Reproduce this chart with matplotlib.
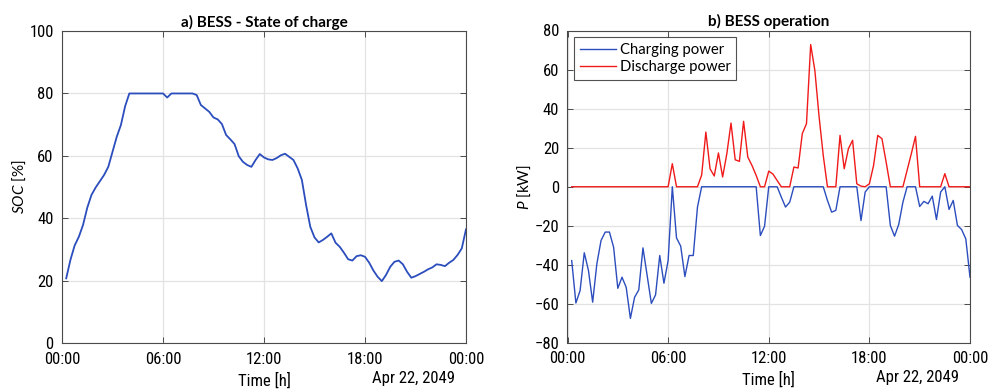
import numpy as np
import pandas as pd
import matplotlib
matplotlib.use("Agg")
import matplotlib.pyplot as plt
import matplotlib.dates as mdates
from matplotlib import font_manager

# ---------------- data ----------------
times = pd.date_range("2049-04-22 00:15", periods=96, freq="15min")

soc = [20.8, 26.7, 31.3, 34.1, 37.9, 43.4, 47.5, 49.9, 51.9, 53.9, 56.5, 61.3,
       66.1, 69.9, 75.9, 80.0, 80.0, 80.0, 80.0, 80.0, 80.0, 80.0, 80.0, 80.0,
       78.7, 80.0, 80.0, 80.0, 80.0, 80.0, 80.0, 79.5, 76.3, 75.2, 74.1, 72.3,
       71.7, 70.2, 66.7, 65.3, 63.8, 59.9, 58.1, 57.1, 56.5, 58.7, 60.6, 59.5,
       58.9, 58.7, 59.3, 60.2, 60.7, 59.7, 58.7, 56.0, 52.3, 44.3, 37.3, 33.9,
       32.3, 33.1, 34.1, 35.2, 32.2, 30.9, 29.0, 26.9, 26.5, 27.9, 28.2, 27.7,
       25.8, 23.3, 21.3, 19.9, 21.9, 24.5, 26.1, 26.5, 25.3, 22.9, 21.0, 21.5,
       22.2, 22.9, 23.7, 24.3, 25.3, 25.1, 24.7, 25.8, 26.7, 28.3, 30.4, 36.5]

charging = [-37.8, -59.5, -53.2, -33.8, -42.9, -59.1, -39.5, -27.5, -23.2, -23.2, -31.0, -52.0,
            -46.3, -51.5, -67.4, -56.6, -52.8, -31.3, -45.5, -59.7, -55.4, -35.2, -49.4, -37.8,
            0.0, -26.2, -30.4, -46.0, -35.2, -35.2, -10.4, 0.0, 0.0, 0.0, 0.0, 0.0,
            0.0, 0.0, 0.0, 0.0, 0.0, 0.0, 0.0, 0.0, 0.0, -25.0, -20.2, 0.0,
            0.0, 0.0, -5.3, -10.4, -7.9, 0.0, 0.0, 0.0, 0.0, 0.0, 0.0, 0.0,
            0.0, -7.0, -13.0, -12.1, 0.0, 0.0, 0.0, 0.0, 0.0, -17.3, -2.7, 0.0,
            0.0, 0.0, 0.0, 0.0, -19.8, -25.3, -19.3, -7.9, 0.0, 0.0, 0.0, -10.1,
            -7.5, -8.7, -4.8, -16.8, -2.7, 0.0, -11.6, -7.0, -19.8, -21.9, -26.7, -46.3]

discharge = [0.0, 0.0, 0.0, 0.0, 0.0, 0.0, 0.0, 0.0, 0.0, 0.0, 0.0, 0.0,
             0.0, 0.0, 0.0, 0.0, 0.0, 0.0, 0.0, 0.0, 0.0, 0.0, 0.0, 0.0,
             11.8, 0.0, 0.0, 0.0, 0.0, 0.0, 0.0, 6.0, 28.0, 9.2, 5.5, 17.3,
             5.0, 16.9, 32.6, 13.8, 13.0, 33.5, 15.2, 10.9, 5.8, 0.0, 0.0, 8.0,
             6.5, 3.2, 0.0, 0.0, 0.0, 10.1, 9.6, 27.2, 32.3, 72.8, 59.5, 36.0,
             16.0, 0.0, 0.0, 0.0, 26.3, 9.2, 19.5, 23.8, 1.5, 0.3, 0.0, 1.5,
             10.9, 26.3, 24.6, 12.6, 0.0, 0.0, 0.0, 0.0, 8.4, 16.9, 25.8, 0.0,
             0.0, 0.0, 0.0, 0.0, 0.0, 6.7, 0.0, 0.0, 0.0, 0.0, 0.0, 0.0]

titles = ["a) BESS - State of charge", "b) BESS operation"]
date_label = "Apr 22, 2049"
x_start = pd.Timestamp("2049-04-22 00:00")
x_end = pd.Timestamp("2049-04-23 00:00")

# ---------------- fonts ----------------
avail = {f.name for f in font_manager.fontManager.ttflist}
def pick(*names):
    for n in names:
        if n in avail:
            return n
    return "DejaVu Sans"

main_font = pick("Lato", "Open Sans", "Noto Sans")
tick_font = pick("Liberation Sans Narrow", "DejaVu Sans Condensed", "Roboto Condensed", main_font)

plt.rcParams["font.family"] = [main_font, "DejaVu Sans"]
plt.rcParams["mathtext.fontset"] = "custom"
plt.rcParams["mathtext.it"] = main_font + ":italic"
plt.rcParams["mathtext.rm"] = main_font

BLUE = "#2b4dbd"
RED = "#f01a1a"
GRID = "#e3e3e3"
SPINE = "#4a4a4a"

fig = plt.figure(figsize=(9.95, 3.89), dpi=100)
ax1 = fig.add_axes([62 / 995, (389 - 343.3) / 389, 404 / 995, 312.3 / 389])
ax2 = fig.add_axes([567.5 / 995, (389 - 343.0) / 389, 402.5 / 995, 312.5 / 389])

ax1.plot(times, soc, color=BLUE, lw=1.3)
ax2.plot(times, charging, color=BLUE, lw=1.0, label="Charging power")
ax2.plot(times, discharge, color=RED, lw=1.0, label="Discharge power")

ax1.set_ylim(0, 100)
ax1.set_yticks(np.arange(0, 101, 20))
ax2.set_ylim(-80, 80)
ax2.set_yticks(np.arange(-80, 81, 20))

for ax, title in zip([ax1, ax2], titles):
    ax.set_xlim(x_start, x_end)
    ax.xaxis.set_major_locator(mdates.HourLocator(byhour=[0, 6, 12, 18]))
    ax.xaxis.set_major_formatter(mdates.DateFormatter("%H:%M"))
    ax.grid(True, color=GRID, lw=0.9)
    ax.set_axisbelow(True)
    for s in ax.spines.values():
        s.set_color(SPINE)
        s.set_linewidth(0.8)
    ax.tick_params(direction="in", length=4, width=0.7, color=SPINE,
                   top=True, right=True, labelsize=12, pad=6)
    for lab in ax.get_xticklabels() + ax.get_yticklabels():
        lab.set_fontfamily(tick_font)
        lab.set_fontsize(12)
    ax.set_title(title, fontsize=11, fontweight="bold", pad=3)
    ax.set_xlabel("Time [h]", fontsize=12, family=tick_font, labelpad=4)
    ax.annotate(date_label, xy=(1, 0), xycoords="axes fraction",
                xytext=(-8, -25), textcoords="offset points",
                ha="right", va="center", fontsize=12, family=tick_font)

ax1.set_ylabel(r"$\it{SOC}$ [%]", fontsize=11, labelpad=1)
ax2.set_ylabel(r"$\it{P}$ [kW]", fontsize=11, labelpad=1)

leg = ax2.legend(loc="upper left", fontsize=10.7, frameon=True, fancybox=False,
                 borderaxespad=0.45, handlelength=2.4, borderpad=0.4,
                 labelspacing=0.22, handletextpad=0.25)
leg.get_frame().set_edgecolor("#262626")
leg.get_frame().set_linewidth(0.8)

fig.savefig("out.png", dpi=100)
